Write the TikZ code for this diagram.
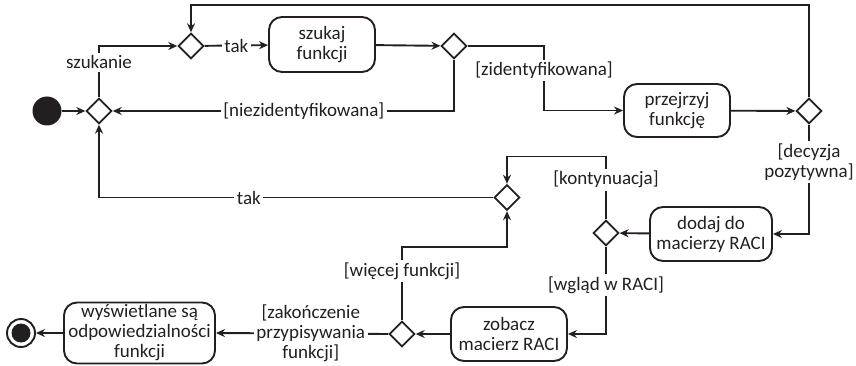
\documentclass[tikz,border=0pt]{standalone}
\usepackage{fontspec}
\setmainfont{Carlito}
\usetikzlibrary{shapes.geometric,arrows.meta}
\definecolor{ink}{HTML}{231F20}
\tikzset{
  txt/.style={font=\fontsize{19}{20}\selectfont, text=ink},
  action/.style={txt, draw=ink, line width=1.9pt, rounded corners=13pt,
    align=center, inner sep=1pt},
  decision/.style={diamond, draw=ink, line width=1.9pt, fill=white,
    minimum width=25.5pt, minimum height=25.5pt, inner sep=0pt},
  startnode/.style={circle, fill=ink, minimum size=29pt, inner sep=0pt},
  endring/.style={circle, draw=ink, line width=1.9pt, minimum size=28pt, inner sep=0pt},
  enddot/.style={circle, fill=ink, minimum size=19pt, inner sep=0pt},
  flow/.style={draw=ink, line width=1.9pt, -{Stealth[length=9pt,width=8pt]}},
  lbl/.style={txt, fill=white, inner sep=2.5pt, align=center}
}
\begin{document}
\begin{tikzpicture}[x=1pt,y=-1pt]
\useasboundingbox (0,0) rectangle (856,366);

% activity nodes
\node[startnode] (start) at (47,111) {};
\node[decision] (d1) at (99,111) {};
\node[decision] (d2) at (191,46) {};
\node[action, minimum width=106pt, minimum height=55pt] (szukaj) at (322,44.5) {szukaj\\funkcji};
\node[decision] (d3) at (454,46) {};
\node[action, minimum width=106pt, minimum height=53pt] (przejrzyj) at (677,110.5) {przejrzyj\\funkcję};
\node[decision] (d4) at (809,111) {};
\node[action, minimum width=122pt, minimum height=54pt] (dodaj) at (711,234) {dodaj do\\macierzy RACI};
\node[decision] (d5) at (606,233) {};
\node[decision] (d6) at (507,197.5) {};
\node[action, minimum width=116pt, minimum height=54pt] (zobacz) at (509,334) {zobacz\\macierz RACI};
\node[decision] (d7) at (402,334) {};
\node[action, minimum width=151pt, minimum height=61pt] (wysw) at (139.5,333) {wyświetlane są\\odpowiedzialności\\funkcji};
\node[endring] (end) at (21,333) {};
\node[enddot] (enddot) at (end) {};

% helper levels for the bent connectors
\coordinate (ceil) at (0,5);
\coordinate (zid) at (544,110.5);
\coordinate (kont) at (0,156.5);
\coordinate (wiec) at (0,247);

% connectors
\draw[flow] (start) -- (d1);
\draw[flow] (d1.north) |- node[lbl, pos=0.34] {szukanie} (d2.west);
\draw[flow] (d2) -- node[lbl] {tak} (szukaj);
\draw[flow] (szukaj) -- (d3);
\draw[flow] (d3.east) -| node[lbl, pos=0.69] {[zidentyfikowana]} (zid) -- (przejrzyj.west);
\draw[flow] (d3.south) |- node[lbl, pos=0.72] {[niezidentyfikowana]} (d1.east);
\draw[flow] (przejrzyj) -- (d4);
\draw[flow] (d4.north) -- (d4.north |- ceil) -| (d2.north);
\draw[flow] (d4.south) |- node[lbl, pos=0.17] {[decyzja\\pozytywna]} (dodaj.east);
\draw[flow] (dodaj) -- (d5);
\draw[flow] (d5.north) -- node[lbl, pos=0.63] {[kontynuacja]} (d5.north |- kont) -| (d6.north);
\draw[flow] (d5.south) |- node[lbl, pos=0.22] {[wgląd w RACI]} (zobacz.east);
\draw[flow] (zobacz) -- (d7);
\draw[flow] (d7.north) -- node[lbl, pos=0.67] {[więcej funkcji]} (d7.north |- wiec) -| (d6.south);
\draw[flow] (d6.west) -| node[lbl, pos=0.31] {tak} (d1.south);
\draw[flow] (d7.west) -- node[lbl, pos=0.45] {[zakończenie\\przypisywania\\funkcji]} (wysw.east);
\draw[flow] (wysw) -- (end);
\end{tikzpicture}
\end{document}
